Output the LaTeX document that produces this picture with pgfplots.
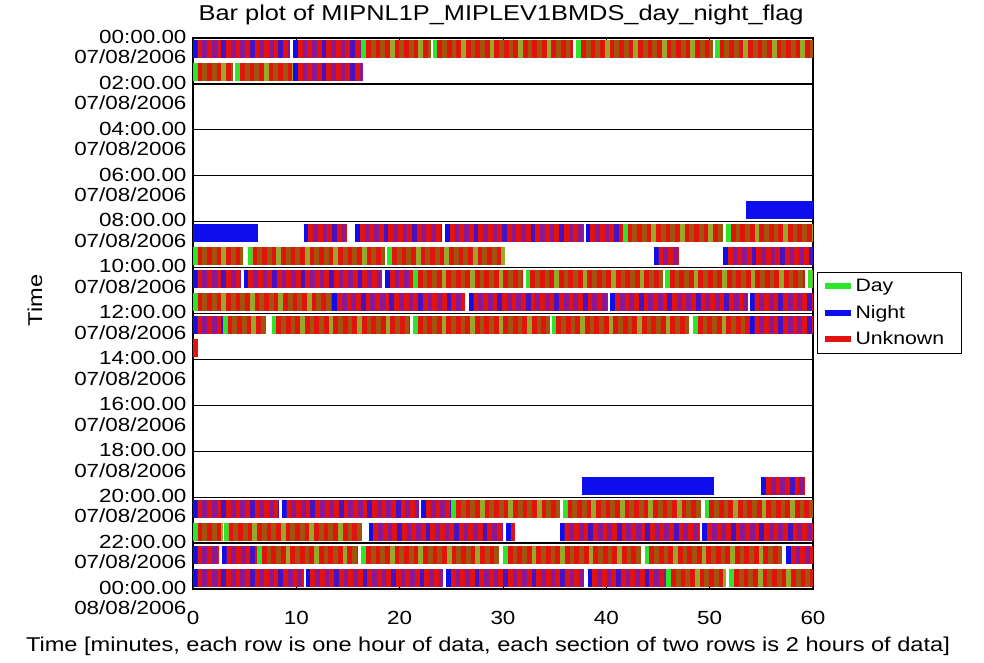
\documentclass[border=0pt]{standalone}
\usepackage{fontspec}
\setmainfont{Liberation Sans}[FakeStretch=1.18]
\usepackage{pgfplots}
\usepackage{pgfplotstable}
\pgfplotsset{compat=1.18}

\definecolor{cred}{RGB}{226,18,14}
\definecolor{cpurple}{RGB}{136,24,150}
\definecolor{cblue}{RGB}{14,14,236}
\definecolor{cbrown}{RGB}{160,84,12}
\definecolor{colive}{RGB}{150,170,40}
\definecolor{cgreen}{RGB}{44,230,44}

% Night-type (red/purple/blue striped) segments: x = minute, y = 23.5 - hour
\pgfplotstableread{
x y
0 23.5
9.4 23.5
nan nan
9.7 23.5
16.3 23.5
nan nan
9.7 22.5
16.5 22.5
nan nan
6.0 15.5
6.3 15.5
nan nan
10.7 15.5
14.9 15.5
nan nan
15.7 15.5
24.0 15.5
nan nan
24.4 15.5
37.8 15.5
nan nan
38.0 15.5
41.6 15.5
nan nan
44.6 14.5
47.0 14.5
nan nan
51.3 14.5
60 14.5
nan nan
0 13.5
4.6 13.5
nan nan
4.9 13.5
18.3 13.5
nan nan
18.6 13.5
21.3 13.5
nan nan
13.5 12.5
26.3 12.5
nan nan
26.7 12.5
40.2 12.5
nan nan
40.4 12.5
53.7 12.5
nan nan
53.9 12.5
60 12.5
nan nan
0 11.5
2.9 11.5
nan nan
53.9 11.5
60 11.5
nan nan
55.0 4.5
59.2 4.5
nan nan
0 3.5
8.3 3.5
nan nan
8.6 3.5
21.9 3.5
nan nan
22.1 3.5
25.0 3.5
nan nan
17.0 2.5
30.0 2.5
nan nan
30.3 2.5
31.2 2.5
nan nan
35.5 2.5
49.1 2.5
nan nan
49.3 2.5
60 2.5
nan nan
0 1.5
2.5 1.5
nan nan
2.8 1.5
6.2 1.5
nan nan
57.4 1.5
60 1.5
nan nan
0 0.5
10.7 0.5
nan nan
10.9 0.5
24.2 0.5
nan nan
24.5 0.5
37.8 0.5
nan nan
38.2 0.5
45.8 0.5
}\segN

% Day-type (red/olive/green striped) segments
\pgfplotstableread{
x y
16.3 23.5
23.0 23.5
nan nan
23.2 23.5
36.8 23.5
nan nan
37.1 23.5
50.3 23.5
nan nan
50.5 23.5
60 23.5
nan nan
0 22.5
3.9 22.5
nan nan
4.1 22.5
9.7 22.5
nan nan
41.6 15.5
51.3 15.5
nan nan
51.6 15.5
60 15.5
nan nan
0 14.5
4.8 14.5
nan nan
5.3 14.5
18.6 14.5
nan nan
18.8 14.5
30.2 14.5
nan nan
21.3 13.5
31.9 13.5
nan nan
32.2 13.5
45.5 13.5
nan nan
45.7 13.5
59.2 13.5
nan nan
59.5 13.5
60 13.5
nan nan
0 12.5
13.5 12.5
nan nan
2.9 11.5
7.1 11.5
nan nan
7.6 11.5
21.0 11.5
nan nan
21.3 11.5
34.5 11.5
nan nan
34.7 11.5
48.0 11.5
nan nan
48.4 11.5
53.9 11.5
nan nan
25.0 3.5
35.5 3.5
nan nan
35.8 3.5
49.2 3.5
nan nan
49.5 3.5
60 3.5
nan nan
0 2.5
2.9 2.5
nan nan
3.0 2.5
16.4 2.5
nan nan
6.2 1.5
16.0 1.5
nan nan
16.3 1.5
29.6 1.5
nan nan
30.0 1.5
43.4 1.5
nan nan
43.7 1.5
57.0 1.5
nan nan
45.8 0.5
51.6 0.5
nan nan
51.9 0.5
60 0.5
}\segD

% Solid night segments
\pgfplotstableread{
x y
53.5 16.5
60 16.5
nan nan
0 15.5
6.0 15.5
nan nan
37.6 4.5
50.4 4.5
}\segB

% Unknown-only segment
\pgfplotstableread{
x y
0 10.5
0.5 10.5
}\segR

\pgfplotsset{seg/.style={line width=18pt, line cap=butt, forget plot,
  unbounded coords=jump, mark=none}}

\begin{document}
\begin{tikzpicture}
\begin{axis}[
  at={(0,0)}, anchor=south west,
  scale only axis, width=620pt, height=551pt,
  xmin=0, xmax=60, ymin=0, ymax=24,
  xtick={0,10,...,60}, ytick={0,2,...,24},
  yticklabels={{00:00.00\\08/08/2006},{22:00.00\\07/08/2006},{20:00.00\\07/08/2006},
    {18:00.00\\07/08/2006},{16:00.00\\07/08/2006},{14:00.00\\07/08/2006},
    {12:00.00\\07/08/2006},{10:00.00\\07/08/2006},{08:00.00\\07/08/2006},
    {06:00.00\\07/08/2006},{04:00.00\\07/08/2006},{02:00.00\\07/08/2006},
    {00:00.00\\07/08/2006}},
  /pgf/number format/assume math mode=true,
  ymajorgrids, grid style={black, line width=1.3pt},
  axis line style={black, line width=1.3pt},
  tick style={black, line width=1pt}, major tick length=5pt, tick align=inside,
  xticklabel style={font=\fontsize{19}{21}\selectfont, anchor=base, yshift=-35pt},
  yticklabel style={font=\fontsize{19}{20.5}\selectfont, align=right, anchor=east, yshift=-9pt, xshift=-3pt},
  title={Bar plot of MIPNL1P\_MIPLEV1BMDS\_day\_night\_flag},
  title style={font=\fontsize{21.5}{24}\selectfont, at={(axis description cs:0.497,1.02)}, anchor=base},
  xlabel={Time [minutes, each row is one hour of data, each section of two rows is 2 hours of data]},
  xlabel style={font=\fontsize{20}{24}\selectfont, at={(axis description cs:0.4758,-0.1143)}, anchor=base},
  ylabel={Time},
  ylabel style={font=\fontsize{20}{24}\selectfont, at={(axis description cs:-0.2548,0.5236)}, anchor=center},
  legend style={at={(axis description cs:1.0065,0.5753)}, anchor=north west,
    draw=black, line width=1pt, font=\fontsize{18}{20}\selectfont,
    row sep=8pt, inner xsep=4pt, inner ysep=5pt},
  legend cell align=left,
  legend image code/.code={\draw[#1, line width=6pt] (0pt,0pt) -- (26pt,0pt);},
]
\addplot[seg, cred] table {\segN};
\addplot[seg, cpurple, dash pattern=on 4.75pt off 4.75pt] table {\segN};
\addplot[seg, cblue!55!cpurple, dash pattern=on 4.75pt off 23.75pt] table {\segN};
\addplot[seg, cblue, dash pattern=on 4.5pt off 3000pt] table {\segN};

\addplot[seg, cred] table {\segD};
\addplot[seg, cbrown, dash pattern=on 4.75pt off 4.75pt] table {\segD};
\addplot[seg, colive, dash pattern=on 4.75pt off 23.75pt] table {\segD};
\addplot[seg, cgreen, dash pattern=on 4.5pt off 3000pt] table {\segD};

\addplot[seg, cblue] table {\segB};
\addplot[seg, cred] table {\segR};

\addlegendimage{cgreen}
\addlegendentry[text width=100pt]{Day}
\addlegendimage{cblue}
\addlegendentry[text width=100pt]{Night}
\addlegendimage{cred}
\addlegendentry[text width=100pt]{Unknown}
\end{axis}
\pgfresetboundingbox
\path (-193pt,-74pt) rectangle (791pt,589pt);
\end{tikzpicture}
\end{document}
